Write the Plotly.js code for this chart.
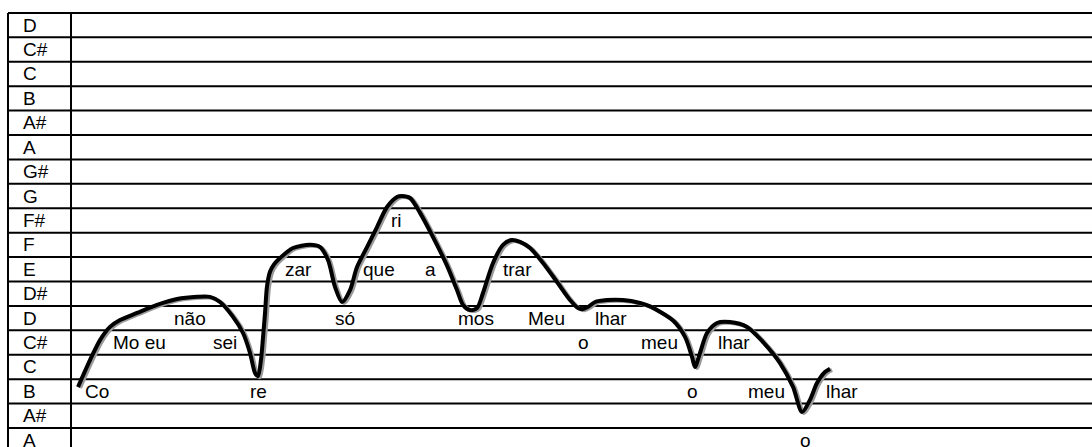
<!DOCTYPE html>
<html><head><meta charset="utf-8">
<script src="https://cdn.plot.ly/plotly-3.0.1.min.js"></script>
<style>html,body{margin:0;padding:0;background:#fff}</style>
</head><body><div id="chart" style="width:1092px;height:447px"></div>
<script>
// Pitch rows, bottom (0) to top (17)
const notes = ['A','A#','B','C','C#','D','D#','E','F','F#','G','G#','A','A#','B','C','C#','D'];

// Melody contour: x = time position, y = pitch (row index, A = 0)
const curveX = [78,90,100,110,120,137,157,177,197,210,220,233,243,250,255,258,261,263,265,267,270,274,280,293,310,320,328,335,342,350,357,367,377,387,397,402,410,420,433,447,457,463,470,477,483,493,503,512,520,530,543,557,570,578,583,588,595,607,623,640,650,673,685,692,695,700,707,717,730,747,763,780,793,802,810,817,825,830];
const curveY = [2.18,3.28,4.10,4.64,4.92,5.21,5.54,5.78,5.87,5.87,5.66,5.05,4.39,3.57,2.75,2.62,3.30,4.20,5.20,6.30,6.90,7.20,7.46,7.87,8.00,7.91,7.38,6.28,5.66,6.15,7.09,7.91,8.73,9.55,9.96,10.00,9.92,9.31,8.32,7.15,6.15,5.54,5.33,5.41,6.03,7.26,8.00,8.20,8.12,7.87,7.26,6.48,5.74,5.41,5.37,5.46,5.66,5.74,5.74,5.62,5.48,4.90,4.23,3.41,3.00,3.57,4.39,4.80,4.84,4.64,4.02,3.16,2.18,1.15,1.65,2.34,2.79,2.92];

// Lyrics syllables
const syllables  = ['Co','Mo eu','não','sei','re','zar','só','que','a','ri','mos','trar','Meu','lhar','o','meu','lhar','o','meu','lhar','o'];
const syllableX  = [85,113,174,213,250,285,335,363,425,391,458,503,528,595,578,641,718,687,748,826,800];
const syllableRow= [2,4,5,4,2,7,5,7,7,9,5,7,5,5,4,4,4,2,2,2,0];

const FONT = {family:'"Liberation Sans", Arial, sans-serif', size:19, color:'#000'};

const shapes = [];
for (let k = 0; k < notes.length; k++) {
  shapes.push({type:'line', xref:'x2', yref:'y2', layer:'below', x0:8, x1:1100, y0:k+0.5, y1:k+0.5, line:{color:'#000', width:2}});
}
[8,71].forEach(xv => shapes.push({type:'line', xref:'x2', yref:'y2', layer:'below', x0:xv, x1:xv, y0:-1, y1:notes.length-0.5, line:{color:'#000', width:2}}));

const annotations = [];
notes.forEach((n,i) => annotations.push({x:21, y:i, xref:'x2', yref:'y2', text:n, showarrow:false, xanchor:'left', yanchor:'middle', font:FONT}));
syllables.forEach((s,i) => annotations.push({x:syllableX[i]-2, y:syllableRow[i], xref:'x2', yref:'y2', text:s, showarrow:false, xanchor:'left', yanchor:'middle', font:FONT}));

const pxPerRow = 24.41;
const yr = [-0.28, 18.03];
// shadow drawn on base axes, shifted ~2px right and 1px down
const shadow = {x:curveX, y:curveY, xaxis:'x', yaxis:'y', mode:'lines', line:{color:'#9a9a9a', width:4, shape:'spline', smoothing:0.8}, hoverinfo:'skip'};
const main = {x:curveX, y:curveY, xaxis:'x2', yaxis:'y2', mode:'lines', line:{color:'#000', width:4, shape:'spline', smoothing:0.8}};

const ax = {showgrid:false, zeroline:false, showticklabels:false, ticks:'', showline:false, fixedrange:true};
const layout = {
  width:1092, height:447, margin:{l:0,r:0,t:0,b:0},
  paper_bgcolor:'#fff', plot_bgcolor:'rgba(0,0,0,0)', showlegend:false,
  xaxis:Object.assign({range:[-2,1090]}, ax),
  yaxis:Object.assign({range:[yr[0]+1/pxPerRow, yr[1]+1/pxPerRow]}, ax),
  xaxis2:Object.assign({range:[0,1092], overlaying:'x'}, ax),
  yaxis2:Object.assign({range:yr, overlaying:'y'}, ax),
  shapes:shapes, annotations:annotations
};
Plotly.newPlot('chart', [shadow, main], layout, {staticPlot:true, displayModeBar:false});
</script></body></html>
